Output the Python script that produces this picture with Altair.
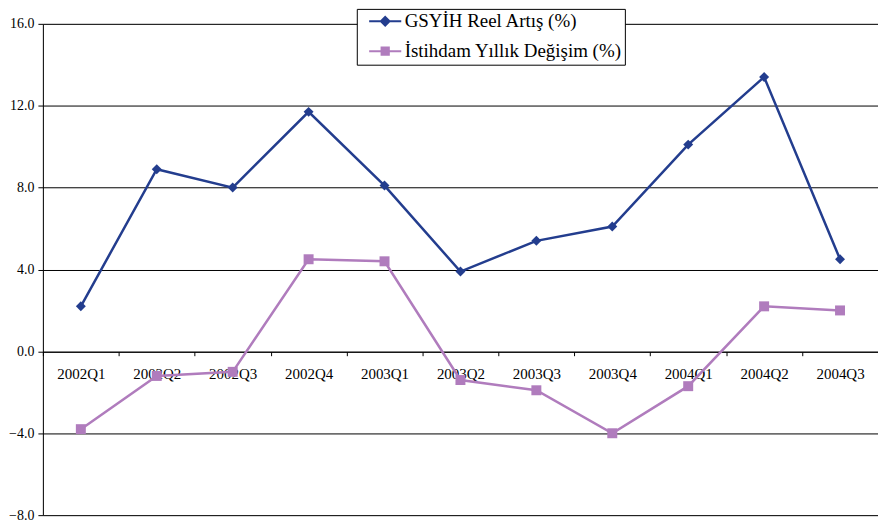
import altair as alt
import pandas as pd

quarters = ["2002Q1", "2002Q2", "2002Q3", "2002Q4", "2003Q1", "2003Q2",
            "2003Q3", "2003Q4", "2004Q1", "2004Q2", "2004Q3"]
gdp = [2.2, 8.9, 8.0, 11.7, 8.1, 3.9, 5.4, 6.1, 10.1, 13.4, 4.5]
emp = [-3.8, -1.2, -1.0, 4.5, 4.4, -1.4, -1.9, -4.0, -1.7, 2.2, 2.0]
series_names = ["GSYİH Reel Artış (%)", "İstihdam Yıllık Değişim (%)"]
colors = ["#233D8E", "#B07CBD"]
marker_shapes = ["diamond", "square"]
y_ticks = [-8, -4, 0, 4, 8, 12, 16]

rows = []
for q, g, e in zip(quarters, gdp, emp):
    rows.append({"q": q, "v": g, "series": series_names[0]})
    rows.append({"q": q, "v": e, "series": series_names[1]})
df = pd.DataFrame(rows)

FONT = "'Liberation Serif', 'Times New Roman', serif"

x_enc = alt.X("q:N", sort=quarters,
              scale=alt.Scale(paddingInner=0, paddingOuter=0),
              axis=alt.Axis(title=None, labelAngle=0, labelFont=FONT, labelFontSize=15,
                            labelColor="black", domainColor="black", tickColor="black",
                            tickSize=4, tickBand="extent", labelPadding=11, offset=-164,
                            grid=False))
y_enc = alt.Y("v:Q", scale=alt.Scale(domain=[-8, 16], nice=False, zero=False),
              axis=alt.Axis(title=None, values=y_ticks, format=".1f", labelFont=FONT,
                            labelFontSize=14, labelColor="black", domainColor="black",
                            tickColor="black", tickSize=5, labelPadding=4,
                            gridColor="black", gridWidth=1, gridOpacity=1))

base = alt.Chart(df)

layers = []
for name, col in zip(series_names, colors):
    layers.append(base.transform_filter(alt.datum.series == name)
                  .mark_line(strokeWidth=2.5, opacity=1, color=col)
                  .encode(x=x_enc, y=y_enc))
for name, col, shp in zip(series_names, colors, marker_shapes):
    layers.append(base.transform_filter(alt.datum.series == name)
                  .mark_point(filled=True, size=100, opacity=1, shape=shp, color=col)
                  .encode(x=x_enc, y=y_enc))

leg = alt.Legend(title=None, orient="none", legendX=315, legendY=-15,
                 fillColor="white", strokeColor="black", padding=3, rowPadding=10,
                 symbolSize=196, symbolOffset=16, symbolStrokeWidth=2, symbolOpacity=1,
                 labelFont=FONT, labelFontSize=19, labelColor="black", labelOffset=10,
                 labelLimit=400)
# legend glyphs: a short line with a filled marker drawn by nested outlines
legend_paths = [
    "M-2.3,0L2.3,0"
    "M0,-0.62L0.62,0L0,0.62L-0.62,0Z"
    "M0,-0.4L0.4,0L0,0.4L-0.4,0Z"
    "M0,-0.18L0.18,0L0,0.18L-0.18,0Z",
    "M-2.3,0L2.3,0"
    "M-0.52,-0.52L0.52,-0.52L0.52,0.52L-0.52,0.52Z"
    "M-0.32,-0.32L0.32,-0.32L0.32,0.32L-0.32,0.32Z"
    "M-0.12,-0.12L0.12,-0.12L0.12,0.12L-0.12,0.12Z",
]

dummy = base.mark_point(filled=False, opacity=0, strokeWidth=2).encode(
    x=x_enc, y=y_enc,
    color=alt.Color("series:N", scale=alt.Scale(domain=series_names, range=colors),
                    legend=leg),
    shape=alt.Shape("series:N", scale=alt.Scale(domain=series_names, range=legend_paths),
                    legend=leg),
)
layers.append(dummy)

chart = alt.layer(*layers).properties(
    width=838, height=493,
    autosize=alt.AutoSizeParams(type="none"),
    padding={"left": 35, "top": 15, "right": 0, "bottom": 10},
).configure_view(stroke=None).configure(font=FONT)

chart.save("out.html", embed_options={"renderer": "svg", "actions": False})
